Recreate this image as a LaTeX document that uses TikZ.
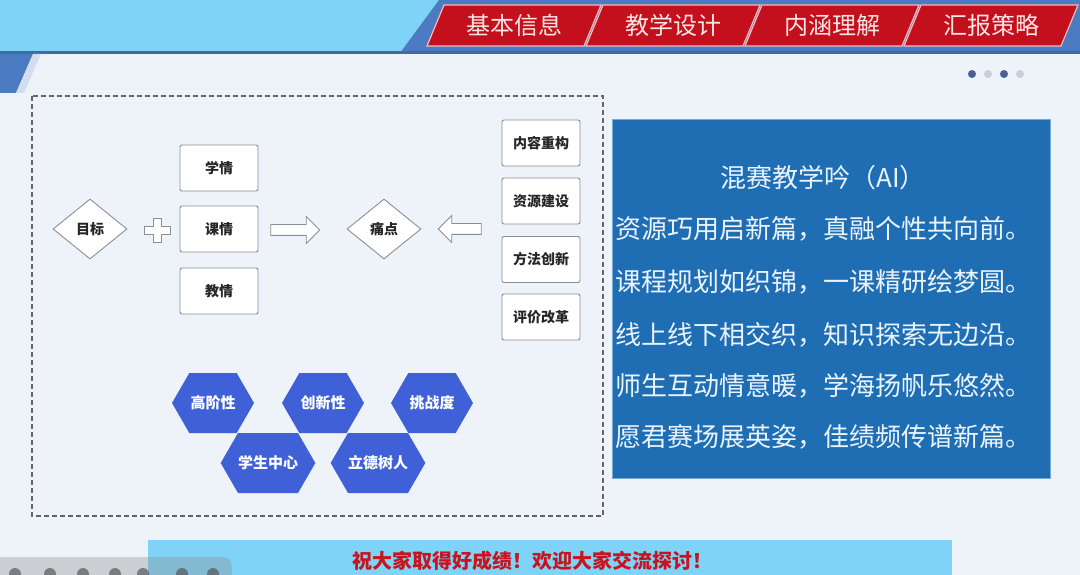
\documentclass[tikz,border=0pt]{standalone}
\usepackage{fontspec}
\setmainfont{Noto Sans CJK SC}
\usetikzlibrary{shapes.geometric,shapes.symbols,shapes.arrows}
\definecolor{skyband}{HTML}{7FD3F6}
\definecolor{steelband}{HTML}{4C7BC1}
\definecolor{tabred}{HTML}{C4101C}
\definecolor{tabtext}{HTML}{FBE6E6}
\definecolor{pagebg}{HTML}{EEF3FA}
\definecolor{hexblue}{HTML}{3F60D6}
\definecolor{poemblue}{HTML}{1F6EB4}
\definecolor{poemtext}{HTML}{EAF4FF}
\definecolor{boxline}{HTML}{8A8F96}
\definecolor{bannerred}{HTML}{C8141E}
\definecolor{dotdark}{HTML}{4B5F90}
\definecolor{dotlight}{HTML}{C9CED8}
\begin{document}
\begin{tikzpicture}[x=1pt,y=-1pt,
  tabcell/.style={fill=tabred,draw=tabtext!80!red,line width=1.2},
  tablabel/.style={text=tabtext,font=\fontsize{24}{26}\selectfont},
  infobox/.style={draw=boxline,fill=white,rounded corners=2pt,line width=0.9,minimum width=78,minimum height=46,inner sep=0,font=\fontsize{14}{16}\selectfont\bfseries,text=black!85},
  decision/.style={diamond,draw=boxline,fill=white,line width=0.9,minimum width=74,minimum height=60,inner sep=0,font=\fontsize{14}{16}\selectfont\bfseries,text=black!85},
  hollowarrow/.style={single arrow,draw=boxline,fill=white,line width=0.9,inner sep=0,inner ysep=5,single arrow head extend=8},
  hexcell/.style={signal,signal to=east and west,signal pointer angle=120,fill=hexblue,minimum width=82,minimum height=60,inner sep=0,text=white,font=\fontsize{15}{17}\selectfont\bfseries},
  poemline/.style={text=poemtext,font=\fontsize{26}{28}\selectfont,inner sep=0}]
\useasboundingbox (0,0) rectangle (1080,575);
\fill[pagebg] (0,0) rectangle (1080,575);

% header band and tabs
\fill[skyband] (0,0) rectangle (1080,51);
\fill[steelband] (439,0) -- (1080,0) -- (1080,53) -- (400,53) -- cycle;
\fill[steelband!85!black] (0,51) rectangle (1080,54);
\foreach \t [count=\i from 0] in {基本信息,教学设计,内涵理解,汇报策略}{
  \draw[tabcell] ({427+159*\i},46) -- ++(157,0) -- ++(17,-41) -- ++(-157,0) -- cycle;
  \node[tablabel] (tab\i) at ({427+159*\i+87},25.5) {\t};
}
\fill[steelband] (0,54) -- (33,54) -- (16,93) -- (0,93) -- cycle;
\fill[steelband!25!white] (33,54) -- (41,54) -- (24,93) -- (16,93) -- cycle;
\foreach \x/\c in {972/dotdark,988/dotlight,1004/dotdark,1020/dotlight}
  \fill[\c] (\x,74) circle (4);

% left panel
\draw[black!60,line width=1.2,dash pattern=on 5pt off 3pt] (32,96) rectangle (603,516);
\node[decision] (goal) at (90,229) {目标};
\coordinate (plus) at (157,230);
\draw[boxline,fill=white,line width=0.9,shift={(plus)}] (-4,-12) -- (4,-12) -- (4,-4) -- (13,-4) -- (13,4) -- (4,4)
  -- (4,12) -- (-4,12) -- (-4,4) -- (-13,4) -- (-13,-4) -- (-4,-4) -- cycle;
\node[infobox] (learn) at (219,168) {学情};
\node[infobox] (course) at (219,229) {课情};
\node[infobox] (teach) at (219,291) {教情};
\node[hollowarrow,minimum height=49,minimum width=26] (toright) at (292.5,230) {};
\node[decision] (pain) at (384,229) {痛点};
\node[hollowarrow,minimum height=43,minimum width=24,shape border rotate=180] (toleft) at (462.5,229) {};
\node[infobox] (r1) at (541,143) {内容重构};
\node[infobox] (r2) at (541,201) {资源建设};
\node[infobox] (r3) at (541,259.5) {方法创新};
\node[infobox] (r4) at (541,317) {评价改革};

% hexagons
\node[hexcell] (h1) at (213,403) {高阶性};
\node[hexcell] (h2) at (323,403) {创新性};
\node[hexcell] (h3) at (432,403) {挑战度};
\node[hexcell] (h4) at (268,463) {学生中心};
\node[hexcell] (h5) at (378,463) {立德树人};

% poem
\node[fill=poemblue,draw=poemblue!60!white,line width=1,minimum width=438,minimum height=358,inner sep=0] (poem) at (831,299) {};
\node[poemline] (title) at (823,178) {混赛教学吟（AI）};
\foreach \l/\y [count=\i] in {资源巧用启新篇，真融个性共向前。/229,课程规划如织锦，一课精研绘梦圆。/282,
  线上线下相交织，知识探索无边沿。/335,师生互动情意暖，学海扬帆乐悠然。/386,愿君赛场展英姿，佳绩频传谱新篇。/437}
  \node[poemline,anchor=west] (line\i) at (615,\y) {\l};

% bottom banner
\fill[skyband] (148,540) rectangle (952,575);
\node[text=bannerred,font=\fontsize{20}{22}\selectfont\bfseries] (wish) at (532,561) {祝大家取得好成绩！欢迎大家交流探讨！};
\fill[black!45,opacity=0.35,rounded corners=9] (-10,557) rectangle (232,590);
\foreach \x in {15,50,83,115,143,182,213}
  \fill[black!65,opacity=0.7] (\x,574) circle (6);
\end{tikzpicture}
\end{document}
